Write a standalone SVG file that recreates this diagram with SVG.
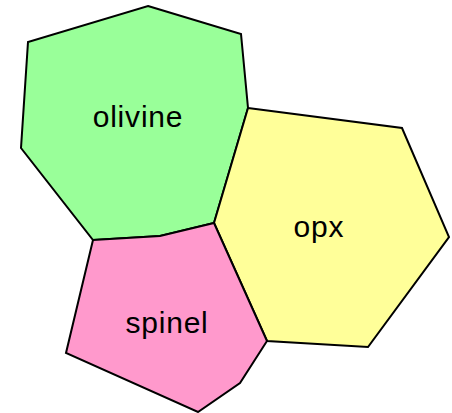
<svg xmlns="http://www.w3.org/2000/svg" width="452" height="413" viewBox="0 0 452 413">
  <style>
    .grain { stroke: #000; stroke-width: 2; stroke-linejoin: miter; }
    .label { font-family: "Liberation Sans", Arial, sans-serif; font-size: 30px; fill: #000; text-anchor: middle; letter-spacing: 0.8px; }
  </style>
  <rect width="452" height="413" fill="#fff"/>
  <g id="olivine">
    <polygon class="grain" fill="#99FF99" points="148,6 241,34 248,108 214,223 160,236 93,240 21,148 28,42"/>
    <text class="label" x="138" y="127">olivine</text>
  </g>
  <g id="opx">
    <polygon class="grain" fill="#FFFF99" points="248,108 402,128 449,237 368,347 267,341 214,223"/>
    <text class="label" x="319" y="237">opx</text>
  </g>
  <g id="spinel">
    <polygon class="grain" fill="#FF99CC" points="93,240 160,236 214,223 267,341 240,383 198,412 66,353"/>
    <text class="label" x="167" y="333">spinel</text>
  </g>
</svg>
